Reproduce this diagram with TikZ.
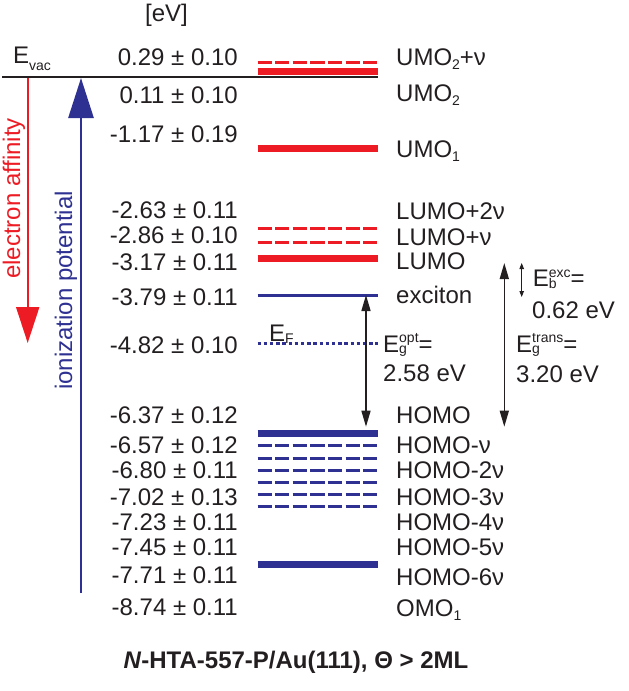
\documentclass[tikz,border=0pt]{standalone}
\usepackage{fontspec}
\setmainfont{Liberation Sans}
\usetikzlibrary{arrows.meta}
\definecolor{lred}{HTML}{ED1C24}
\definecolor{lblue}{HTML}{2E3192}
\definecolor{ink}{HTML}{231F20}
\newcommand\SupSub[2]{%
  \setbox0=\hbox{\fontsize{14}{14}\selectfont #1}%
  \setbox2=\hbox{\fontsize{14}{14}\selectfont #2}%
  \ifdim\wd0>\wd2 \dimen0=\wd0 \else \dimen0=\wd2 \fi
  \hbox to \dimen0{\rlap{\raise 9.5pt\box0}\lower 1.5pt\box2\hfil}}
\newcommand\SubOnly[2]{\lower #2\hbox{\fontsize{14}{14}\selectfont #1}}
\begin{document}
\begin{tikzpicture}[x=1pt,y=-1pt,
  txt/.style={inner sep=0pt, text=ink, font=\fontsize{24}{28}\selectfont},
  val/.style={txt, anchor=base east},
  lab/.style={txt, anchor=base west},
  lvlthick/.style={line width=7pt},
  lvldash/.style={line width=3pt, dash pattern=on 14.3pt off 3.3pt},
  lvldot/.style={line width=3pt, dash pattern=on 3.5pt off 2.7pt},
  gaparrow/.style={ink, line width=1.5pt, {Triangle[length=16pt,width=9pt]}-{Triangle[length=16pt,width=9pt]}},
  smallarrow/.style={ink, line width=1pt, {Triangle[length=6pt,width=4.5pt]}-{Triangle[length=6pt,width=4.5pt]}}]
\useasboundingbox (0,0) rectangle (629,691);

% header
\node[txt, anchor=base] (ev) at (166.5,21.7) {[eV]};
\node[txt, anchor=base west] (evac) at (13,63) {E\SubOnly{vac}{7pt}};

% vacuum level
\coordinate (vacL) at (2,76.7);
\coordinate (vacR) at (377.7,76.7);
\draw[ink, line width=2pt] (vacL) -- (vacR);

% levels
\draw[lred, lvldash] (257.5,62.7) -- (377.7,62.7);
\draw[lred, lvlthick] (257.5,71.2) -- (377.7,71.2);
\draw[lred, lvlthick] (257.5,148.3) -- (377.7,148.3);
\draw[lred, lvldash] (257.5,228.3) -- (377.7,228.3);
\draw[lred, lvldash] (257.5,242.3) -- (377.7,242.3);
\draw[lred, lvlthick] (257.5,258.7) -- (377.7,258.7);
\draw[lblue, line width=3pt] (257.5,295) -- (377.7,295);
\draw[lblue, lvldot] (257.5,343.3) -- (377.7,343.3);
\draw[lblue, lvlthick] (257.5,433.3) -- (377.7,433.3);
\foreach \yy in {445.7,458.3,470.7,482.3,494.3,506.7}
  \draw[lblue, lvldash] (257.5,\yy) -- (377.7,\yy);
\draw[lblue, lvlthick] (257.5,564) -- (377.7,564);

% values
\node[val] (v1) at (238,65.3) {0.29 ± 0.10};
\node[val] (v2) at (238,103.6) {0.11 ± 0.10};
\node[val] (v3) at (238,142) {-1.17 ± 0.19};
\node[val] (v4) at (238,218.6) {-2.63 ± 0.11};
\node[val] (v5) at (238,243.6) {-2.86 ± 0.10};
\node[val] (v6) at (238,270.3) {-3.17 ± 0.11};
\node[val] (v7) at (238,305.3) {-3.79 ± 0.11};
\node[val] (v8) at (238,353.6) {-4.82 ± 0.10};
\node[val] (v9) at (238,423.6) {-6.37 ± 0.12};
\node[val] (v10) at (238,453.6) {-6.57 ± 0.12};
\node[val] (v11) at (238,478.6) {-6.80 ± 0.11};
\node[val] (v12) at (238,505.3) {-7.02 ± 0.13};
\node[val] (v13) at (238,530.3) {-7.23 ± 0.11};
\node[val] (v14) at (238,555.3) {-7.45 ± 0.11};
\node[val] (v15) at (238,583.6) {-7.71 ± 0.11};
\node[val] (v16) at (238,615.3) {-8.74 ± 0.11};

% labels
\node[lab] (l1) at (396,65) {UMO\SubOnly{2}{4pt}+ν};
\node[lab] (l2) at (396,101.7) {UMO\SubOnly{2}{4pt}};
\node[lab] (l3) at (396,157) {UMO\SubOnly{1}{4pt}};
\node[lab] (l4) at (396,219) {LUMO+2ν};
\node[lab] (l5) at (396,245) {LUMO+ν};
\node[lab] (l6) at (396,269) {LUMO};
\node[lab] (l7) at (396,303) {exciton};
\node[lab] (l8) at (396,423.3) {HOMO};
\node[lab] (l9) at (396,453) {HOMO-ν};
\node[lab] (l10) at (396,478) {HOMO-2ν};
\node[lab] (l11) at (396,505) {HOMO-3ν};
\node[lab] (l12) at (396,530) {HOMO-4ν};
\node[lab] (l13) at (396,555) {HOMO-5ν};
\node[lab] (l14) at (396,585) {HOMO-6ν};
\node[lab] (l15) at (396,616) {OMO\SubOnly{1}{4pt}};

% Fermi level label
\node[lab] (ef) at (269,341.7) {E\SubOnly{F}{2pt}};

% big arrows
\coordinate (ea0) at (27.7,77.7);
\coordinate (ea1) at (27.7,343);
\draw[lred, line width=2pt, -{Triangle[length=36pt,width=23pt]}] (ea0) -- (ea1);
\node[txt, text=lred, rotate=90, anchor=base] (eatext) at (20,198.5) {electron affinity};
\coordinate (ip0) at (81,593);
\coordinate (ip1) at (81,78);
\draw[lblue, line width=2.7pt, -{Triangle[length=40pt,width=25pt]}] (ip0) -- (ip1);
\node[txt, text=lblue, rotate=90, anchor=base] (iptext) at (72,290.5) {ionization potential};

% gap arrows
\coordinate (go0) at (366,295);
\coordinate (go1) at (366,426.7);
\draw[gaparrow] (go0) -- (go1);
\coordinate (gt0) at (504.3,263);
\coordinate (gt1) at (504.3,426.7);
\draw[gaparrow] (gt0) -- (gt1);
\coordinate (gb0) at (521.7,263);
\coordinate (gb1) at (521.7,297);
\draw[smallarrow] (gb0) -- (gb1);

\node[lab] (egopt) at (383,352) {E\SupSub{opt}{g}=};
\node[lab] (egoptv) at (383,381.7) {2.58 eV};
\node[lab] (egtr) at (516,352) {E\SupSub{trans}{g}=};
\node[lab] (egtrv) at (516,382) {3.20 eV};
\node[lab] (ebx) at (532.7,286.7) {E\SupSub{exc}{b}=};
\node[lab] (ebxv) at (532,318) {0.62 eV};

% title
\node[txt, anchor=base] (title) at (296,668.3) {\textbf{\textit{N}-HTA-557-P/Au(111), Θ > 2ML}};
\end{tikzpicture}
\end{document}
